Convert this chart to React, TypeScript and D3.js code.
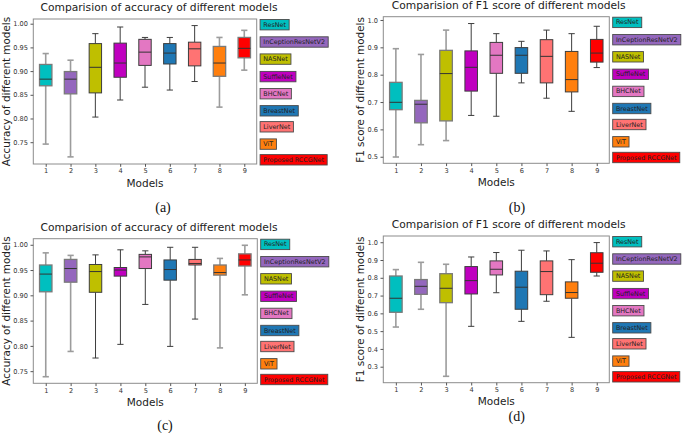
import React, { useEffect, useRef } from "react";
import * as d3 from "d3";

const models = [
  "ResNet",
  "InCeptionResNetV2",
  "NASNet",
  "SuffleNet",
  "BHCNet",
  "BreastNet",
  "LiverNet",
  "ViT",
  "Proposed RCCGNet",
];
const modelColors = [
  "#00bfbf",
  "#9467bd",
  "#bfbf00",
  "#bf00bf",
  "#e377c2",
  "#1f77b4",
  "#ff7373",
  "#ff7f0e",
  "#ff0000",
];
const xTickLabels = ["1", "2", "3", "4", "5", "6", "7", "8", "9"];

// each entry: [lower whisker, Q1, median, Q3, upper whisker]
const accuracyA = [
  [0.746, 0.869, 0.883, 0.914, 0.937],
  [0.719, 0.852, 0.883, 0.899, 0.923],
  [0.803, 0.854, 0.908, 0.958, 0.979],
  [0.839, 0.887, 0.917, 0.959, 0.993],
  [0.866, 0.912, 0.94, 0.967, 0.971],
  [0.86, 0.915, 0.938, 0.958, 0.971],
  [0.878, 0.911, 0.947, 0.961, 0.996],
  [0.824, 0.889, 0.917, 0.952, 0.971],
  [0.902, 0.928, 0.948, 0.971, 0.986],
];
const f1B = [
  [0.499, 0.672, 0.699, 0.772, 0.895],
  [0.544, 0.624, 0.692, 0.706, 0.874],
  [0.559, 0.631, 0.804, 0.889, 0.963],
  [0.651, 0.74, 0.827, 0.887, 0.987],
  [0.648, 0.805, 0.871, 0.918, 0.95],
  [0.77, 0.805, 0.871, 0.899, 0.922],
  [0.714, 0.77, 0.867, 0.928, 0.963],
  [0.666, 0.737, 0.782, 0.885, 0.95],
  [0.826, 0.846, 0.879, 0.929, 0.977],
];
const accuracyC = [
  [0.739, 0.907, 0.942, 0.96, 0.984],
  [0.789, 0.926, 0.953, 0.971, 0.979],
  [0.776, 0.906, 0.947, 0.961, 0.98],
  [0.803, 0.938, 0.95, 0.955, 0.99],
  [0.882, 0.953, 0.976, 0.981, 0.988],
  [0.799, 0.93, 0.951, 0.97, 0.995],
  [0.853, 0.96, 0.963, 0.971, 0.995],
  [0.796, 0.94, 0.945, 0.96, 0.973],
  [0.901, 0.958, 0.97, 0.982, 0.999],
];
const f1D = [
  [0.523, 0.606, 0.685, 0.81, 0.846],
  [0.623, 0.707, 0.752, 0.79, 0.887],
  [0.246, 0.66, 0.741, 0.823, 0.876],
  [0.527, 0.709, 0.784, 0.863, 0.917],
  [0.716, 0.816, 0.848, 0.895, 0.942],
  [0.555, 0.623, 0.747, 0.837, 0.955],
  [0.668, 0.705, 0.835, 0.895, 0.951],
  [0.465, 0.685, 0.717, 0.777, 0.902],
  [0.81, 0.831, 0.882, 0.941, 0.998],
];

const accuracyTicks = [0.75, 0.8, 0.85, 0.9, 0.95, 1.0];
const f1TicksB = [0.5, 0.6, 0.7, 0.8, 0.9, 1.0];
const f1TicksD = [0.3, 0.4, 0.5, 0.6, 0.7, 0.8, 0.9, 1.0];

// whisker style per box (true = light grey whisker)
const lightA = [true, true, false, false, false, false, false, true, true];
const lightB = [true, true, true, false, false, false, false, false, false];
const lightC = [true, true, false, false, false, false, false, true, true];
const lightD = [true, true, true, false, false, false, false, false, false];

const legendOffsets = [5.7, 23, 40.1, 57.6, 74.7, 91.8, 107.8, 125.1, 140.8];

const FONT = "'DejaVu Sans', sans-serif";

type Panel = {
  left: number;
  right: number;
  top: number;
  bottom: number;
  yDomain: [number, number];
  stats: number[][];
  ticks: number[];
  fmt: string;
  light: boolean[];
  title: string;
  titleX: number;
  ylabel: string;
  ylabelX: number;
  caption: string;
  captionX: number;
  captionY: number;
};

const panels: Panel[] = [
  {
    left: 33.3, right: 256.7, top: 19, bottom: 164, yDomain: [0.704, 1.0099],
    stats: accuracyA, ticks: accuracyTicks, fmt: ".2f", light: lightA,
    title: "Comparision of accuracy of different models", titleX: 159,
    ylabel: "Accuracy of different models", ylabelX: 5.5,
    caption: "(a)", captionX: 163, captionY: 207,
  },
  {
    left: 383.3, right: 609.3, top: 16.7, bottom: 163.3, yDomain: [0.476, 1.012],
    stats: f1B, ticks: f1TicksB, fmt: ".1f", light: lightB,
    title: "Comparision of F1 score of different models", titleX: 508.7,
    ylabel: "F1 score of different models", ylabelX: 360,
    caption: "(b)", captionX: 517, captionY: 207,
  },
  {
    left: 33.3, right: 257.3, top: 238.7, bottom: 383.3, yDomain: [0.726, 1.012],
    stats: accuracyC, ticks: accuracyTicks, fmt: ".2f", light: lightC,
    title: "Comparision of accuracy of different models", titleX: 159,
    ylabel: "Accuracy of different models", ylabelX: 5.5,
    caption: "(c)", captionX: 165, captionY: 425,
  },
  {
    left: 383.3, right: 609.3, top: 236, bottom: 382.7, yDomain: [0.21, 1.035],
    stats: f1D, ticks: f1TicksD, fmt: ".1f", light: lightD,
    title: "Comparision of F1 score of different models", titleX: 508.7,
    ylabel: "F1 score of different models", ylabelX: 360,
    caption: "(d)", captionX: 516.7, captionY: 416,
  },
];

function drawPanel(svg: d3.Selection<SVGSVGElement, unknown, null, undefined>, p: Panel) {
  const g = svg.append("g");
  const x = d3.scaleLinear().domain([0.5, 9.5]).range([p.left, p.right]);
  const y = d3.scaleLinear().domain(p.yDomain).range([p.bottom, p.top]);

  // boxes
  p.stats.forEach((s, i) => {
    const pos = i + 1;
    const cx = x(pos);
    const [lo, q1, med, q3, hi] = s;
    const light = p.light[i];
    const wc = light ? "#9c9c9c" : "#3d3d3d";
    const ww = light ? 1.6 : 1;
    const bg = g.append("g");
    // whiskers
    bg.append("line").attr("x1", cx).attr("x2", cx).attr("y1", y(q3)).attr("y2", y(hi))
      .attr("stroke", wc).attr("stroke-width", ww);
    bg.append("line").attr("x1", cx).attr("x2", cx).attr("y1", y(q1)).attr("y2", y(lo))
      .attr("stroke", wc).attr("stroke-width", ww);
    // caps
    [lo, hi].forEach((v) => {
      bg.append("line").attr("x1", x(pos - 0.125)).attr("x2", x(pos + 0.125))
        .attr("y1", y(v)).attr("y2", y(v)).attr("stroke", wc).attr("stroke-width", ww);
    });
    // box
    bg.append("rect")
      .attr("x", x(pos - 0.25))
      .attr("y", y(q3))
      .attr("width", x(pos + 0.25) - x(pos - 0.25))
      .attr("height", y(q1) - y(q3))
      .attr("fill", modelColors[i])
      .attr("stroke", light ? "#7a7a7a" : "#3d3d3d")
      .attr("stroke-width", light ? 1.3 : 1);
    // median
    bg.append("line").attr("x1", x(pos - 0.25)).attr("x2", x(pos + 0.25))
      .attr("y1", y(med)).attr("y2", y(med)).attr("stroke", "#333").attr("stroke-width", 1);
  });

  // spines
  g.append("rect")
    .attr("x", p.left).attr("y", p.top)
    .attr("width", p.right - p.left).attr("height", p.bottom - p.top)
    .attr("fill", "none").attr("stroke", "#8c8c8c").attr("stroke-width", 1);

  // y axis
  const ya = g.append("g").attr("transform", `translate(${p.left},0)`)
    .call(d3.axisLeft(y).tickValues(p.ticks).tickFormat(d3.format(p.fmt)).tickSize(2.8).tickPadding(2.5));
  ya.select(".domain").remove();
  ya.selectAll("line").attr("stroke", "#555");
  ya.selectAll("text").attr("font-family", FONT).attr("font-size", 6.6).attr("fill", "#333");

  // x axis
  const xa = g.append("g").attr("transform", `translate(0,${p.bottom})`)
    .call(d3.axisBottom(x).tickValues(d3.range(1, 10)).tickFormat((d) => xTickLabels[(d as number) - 1]).tickSize(2.8).tickPadding(2));
  xa.select(".domain").remove();
  xa.selectAll("line").attr("stroke", "#555");
  xa.selectAll("text").attr("font-family", FONT).attr("font-size", 6.6).attr("fill", "#333");

  // title
  g.append("text").attr("x", p.titleX).attr("y", p.top - 11.7)
    .attr("text-anchor", "middle").attr("dominant-baseline", "central")
    .attr("font-family", FONT).attr("font-size", 10.7).attr("fill", "#222")
    .text(p.title);

  // x label
  g.append("text").attr("x", (p.left + p.right) / 2).attr("y", p.bottom + 18.6)
    .attr("text-anchor", "middle").attr("dominant-baseline", "central")
    .attr("font-family", FONT).attr("font-size", 10.5).attr("fill", "#222")
    .text("Models");

  // y label
  g.append("text")
    .attr("transform", `translate(${p.ylabelX},${(p.top + p.bottom) / 2}) rotate(-90)`)
    .attr("text-anchor", "middle").attr("dominant-baseline", "central")
    .attr("font-family", FONT).attr("font-size", 10.4).attr("fill", "#222")
    .text(p.ylabel);

  // legend
  const lg = g.append("g");
  models.forEach((m, i) => {
    const cy = p.top + legendOffsets[i];
    const bx = p.right + 3.4;
    const item = lg.append("g");
    const rect = item.append("rect");
    const t = item.append("text").attr("x", bx + 3.2).attr("y", cy)
      .attr("dominant-baseline", "central")
      .attr("font-family", FONT).attr("font-size", 6.4).attr("fill", "#222")
      .text(m);
    const w = (t.node() as SVGTextElement).getComputedTextLength();
    rect.attr("x", bx).attr("y", cy - 5.2).attr("width", w + 6.4).attr("height", 10.4)
      .attr("fill", modelColors[i]).attr("stroke", "#4a4a4a").attr("stroke-width", 0.9);
  });

  // caption
  g.append("text").attr("x", p.captionX).attr("y", p.captionY)
    .attr("text-anchor", "middle").attr("dominant-baseline", "central")
    .attr("font-family", "'Liberation Serif', 'DejaVu Serif', serif").attr("font-size", 14).attr("fill", "#111")
    .text(p.caption);
}

export default function App() {
  const ref = useRef<SVGSVGElement | null>(null);
  useEffect(() => {
    if (!ref.current) return;
    const svg = d3.select(ref.current);
    svg.selectAll("*").remove();
    svg.append("rect").attr("width", 685).attr("height", 433).attr("fill", "#fff");
    panels.forEach((p) => drawPanel(svg, p));
  }, []);
  return (
    <svg
      ref={ref}
      width={685}
      height={433}
      style={{ position: "absolute", left: 0, top: 0, display: "block" }}
    />
  );
}
